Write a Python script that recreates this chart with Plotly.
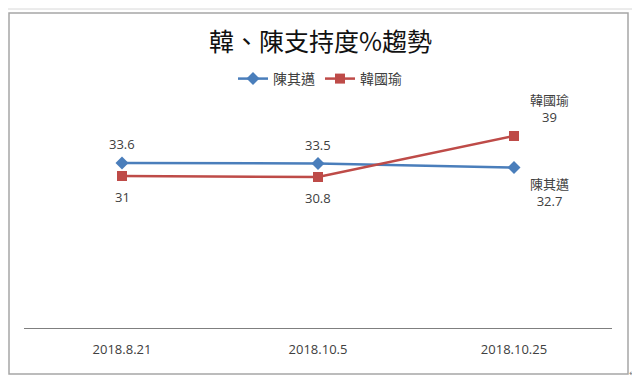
import plotly.graph_objects as go

dates = ["2018.8.21", "2018.10.5", "2018.10.25"]
chen_name = "陳其邁"
han_name = "韓國瑜"
chen = [33.6, 33.5, 32.7]
han = [31, 30.8, 39]
title = "韓、陳支持度%趨勢"

BLUE = "#4A7EBB"
RED = "#BE4B48"
LABEL = "#404040"
LFONT = "Open Sans, Liberation Sans, Arial, sans-serif"
CJK = "Noto Sans CJK TC, Noto Sans CJK SC, sans-serif"
OFF = 8  # page body margin
W, H = 640 - OFF, 392 - OFF

def px(x):
    return (x - OFF) / W

def py(y):
    return 1 - (y - OFF) / H

fig = go.Figure()
fig.add_trace(go.Scatter(
    x=dates, y=chen, name=chen_name, mode="lines+markers",
    line=dict(color=BLUE, width=2.5),
    marker=dict(symbol="diamond", size=10, color=BLUE),
))
fig.add_trace(go.Scatter(
    x=dates, y=han, name=han_name, mode="lines+markers",
    line=dict(color=RED, width=2.5),
    marker=dict(symbol="square", size=10, color=RED),
))

ann = []
for i, v in enumerate(chen):
    if i < len(chen) - 1:
        ann.append(dict(x=dates[i], y=v, text=str(v), yshift=19, showarrow=False,
                        font=dict(size=13, color=LABEL, family=LFONT)))
    else:
        ann.append(dict(x=dates[i], y=v, text=f"<span style='font-family:{CJK}'>{chen_name}</span><br>{v}",
                        xshift=35, yshift=-24, showarrow=False,
                        font=dict(size=13, color=LABEL, family=LFONT)))
for i, v in enumerate(han):
    if i < len(han) - 1:
        ann.append(dict(x=dates[i], y=v, text=str(v), yshift=-21, showarrow=False,
                        font=dict(size=13, color=LABEL, family=LFONT)))
    else:
        ann.append(dict(x=dates[i], y=v, text=f"<span style='font-family:{CJK}'>{han_name}</span><br>{v}",
                        xshift=35, yshift=28, showarrow=False,
                        font=dict(size=13, color=LABEL, family=LFONT)))

# title
ann.append(dict(x=px(320), y=py(40), xref="paper", yref="paper", text=title,
                xanchor="center", yanchor="middle",
                showarrow=False, font=dict(size=25, color="#111111", family=CJK)))
# paragraph mark
ann.append(dict(x=px(633), y=py(373), xref="paper", yref="paper", text="↵",
                xanchor="center", yanchor="middle",
                showarrow=False, font=dict(size=9, color="#888888", family="DejaVu Sans")))

fig.update_layout(
    width=W, height=H,
    margin=dict(l=0, r=0, t=0, b=0),
    paper_bgcolor="white", plot_bgcolor="white",
    showlegend=True,
    legend=dict(orientation="h", x=px(320), xanchor="center", y=py(79), yanchor="middle",
                font=dict(size=14, color=LABEL, family=CJK),
                itemwidth=30, tracegroupgap=0, bgcolor="rgba(0,0,0,0)"),
    xaxis=dict(type="category", range=[-0.5, 2.5], domain=[px(24), px(612)],
               showgrid=False, zeroline=False,
               showline=True, linecolor="#7f7f7f", linewidth=1,
               ticks="outside", ticklen=9, tickcolor="rgba(0,0,0,0)",
               tickfont=dict(size=13, color=LABEL, family=LFONT)),
    yaxis=dict(range=[0.6, 45.6], domain=[py(328), py(103)], visible=False, fixedrange=True),
    annotations=ann,
    shapes=[
        dict(type="rect", xref="paper", yref="paper", x0=px(9), x1=px(628),
             y0=py(374), y1=py(13), line=dict(color="#a6a6a6", width=1.5), layer="below"),
        dict(type="line", xref="paper", yref="paper", x0=0, x1=1,
             y0=py(9), y1=py(9), line=dict(color="#d8d8d8", width=1)),
    ],
)

fig.write_html("out.html")
